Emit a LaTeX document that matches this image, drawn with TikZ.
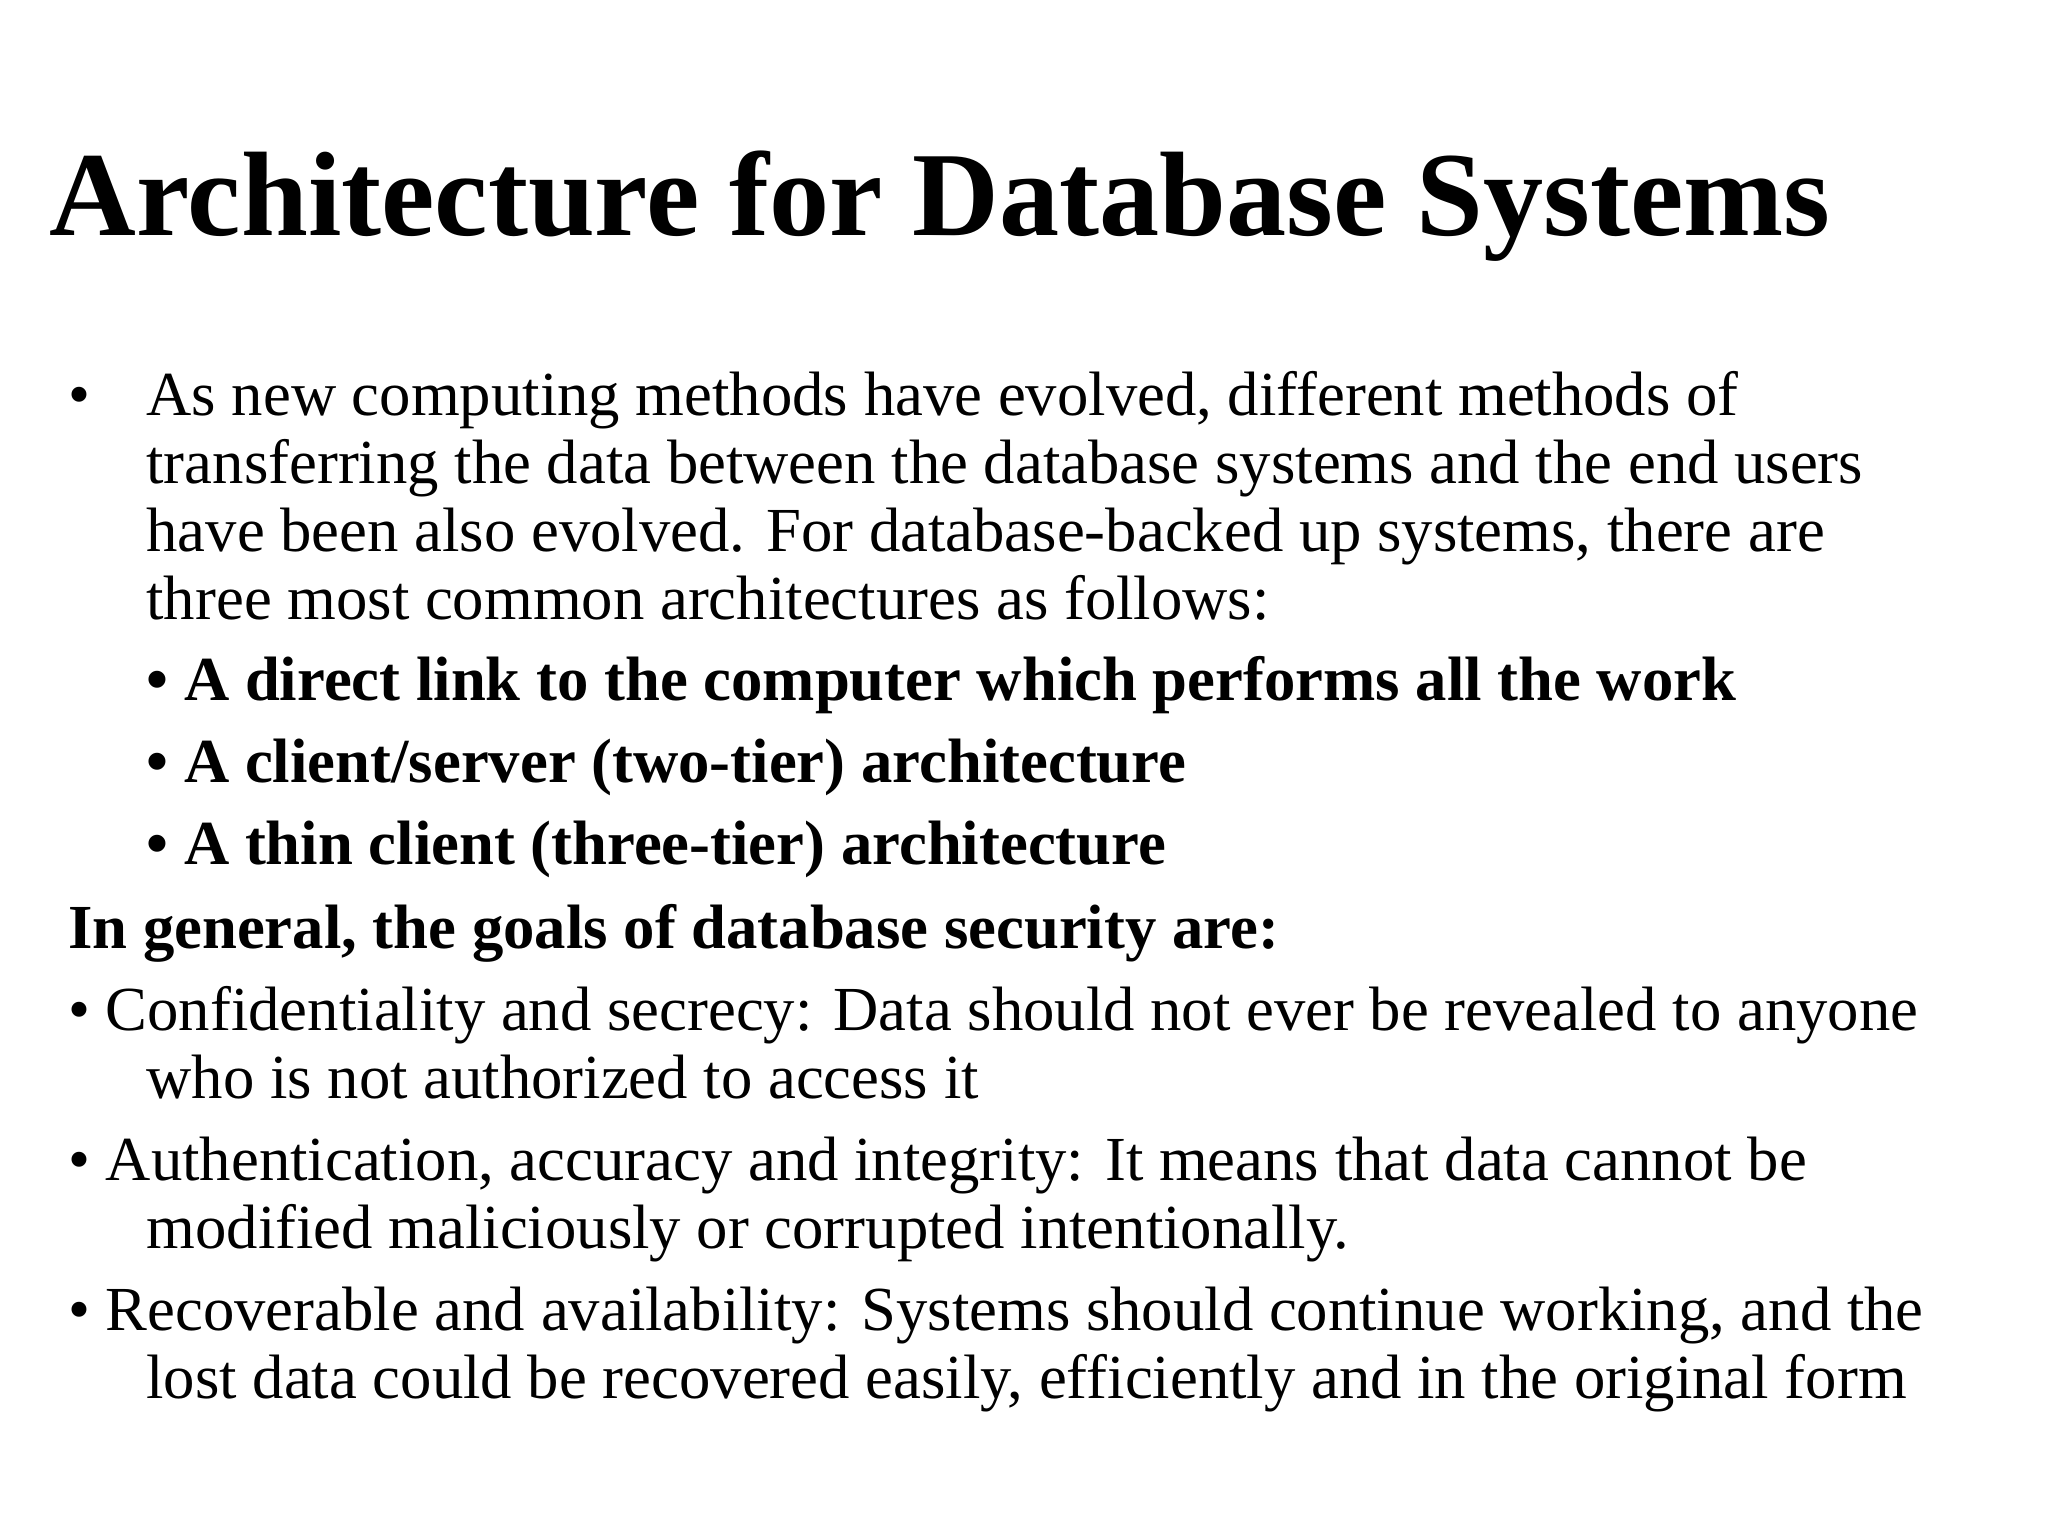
\documentclass[tikz,border=0pt]{standalone}
\usepackage{fontspec}
\setmainfont{Liberation Serif}
\begin{document}
\begin{tikzpicture}[x=1pt,y=1pt,
  txt/.style={anchor=base west,inner sep=0pt,font=\fontsize{48}{56}\selectfont},
  btxt/.style={txt,font=\fontsize{48}{56}\selectfont\bfseries},
  ttl/.style={anchor=base west,inner sep=0pt,font=\fontsize{92}{110}\selectfont\bfseries}]
\useasboundingbox[fill=white] (0,0) rectangle (1568,-1176);
\node[ttl] (title) at (38,-180) {Architecture for Database Systems};
\node[txt] (b0) at (52,-318) {•};
\node[txt] (l1) at (112,-318) {As new computing methods have evolved, different methods of};
\node[txt] (l2) at (112,-370) {transferring the data between the database systems and the end users};
\node[txt] (l3) at (112,-422) {have been also evolved. For database-backed up systems, there are};
\node[txt] (l4) at (112,-474) {three most common architectures as follows:};
\node[btxt] (s1) at (112,-536) {• A direct link to the computer which performs all the work};
\node[btxt] (s2) at (112,-599) {• A client/server (two-tier) architecture};
\node[btxt] (s3) at (112,-662) {• A thin client (three-tier) architecture};
\node[btxt] (g) at (52,-726) {In general, the goals of database security are:};
\node[txt] (c1) at (52,-789) {• Confidentiality and secrecy: Data should not ever be revealed to anyone};
\node[txt] (c2) at (112,-841) {who is not authorized to access it};
\node[txt] (a1) at (52,-904) {• Authentication, accuracy and integrity: It means that data cannot be};
\node[txt] (a2) at (112,-956) {modified maliciously or corrupted intentionally.};
\node[txt] (r1) at (52,-1019) {• Recoverable and availability: Systems should continue working, and the};
\node[txt] (r2) at (112,-1071) {lost data could be recovered easily, efficiently and in the original form};
\end{tikzpicture}
\end{document}
